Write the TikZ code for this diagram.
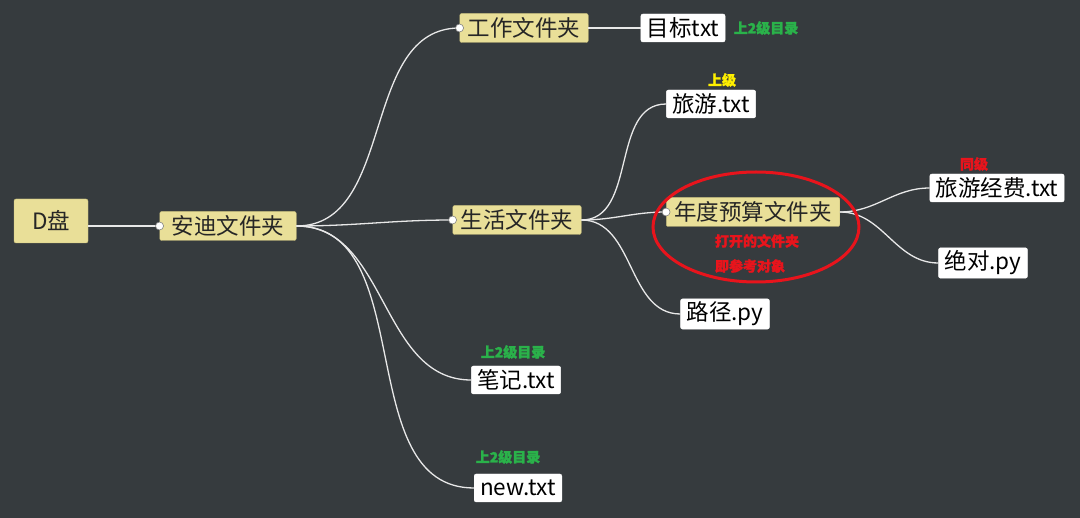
\documentclass[tikz,border=0pt]{standalone}
\usepackage{fontspec}
\setmainfont{Noto Sans CJK SC}
\newfontfamily\notefont{Noto Sans CJK SC}[FakeBold=1.6]
\usepackage{xcolor}
\usepackage{tikz}
\definecolor{bgdark}{HTML}{363B3E}
\definecolor{khaki}{HTML}{E9DF98}
\definecolor{khakiline}{HTML}{C9BF7A}
\definecolor{notegreen}{HTML}{2AB24A}
\definecolor{noteyellow}{HTML}{FFF000}
\definecolor{notered}{HTML}{E8141C}
\definecolor{linkgray}{HTML}{E8E8E8}

\begin{document}
\begin{tikzpicture}[x=1pt,y=-1pt,
  folder/.style={draw=khakiline, fill=khaki, rounded corners=2pt, text=black!85,
    font=\fontsize{22.5}{25}\selectfont, inner xsep=8pt, inner ysep=3pt, minimum height=29pt},
  file/.style={draw=white, fill=white, rounded corners=2pt, text=black,
    font=\fontsize{22.5}{25}\selectfont, inner xsep=6pt, inner ysep=3pt, minimum height=28pt},
  note/.style={font=\fontsize{14}{16}\notefont\bfseries},
  link/.style={draw=linkgray, line width=1.3pt},
  knob/.style={fill=white, draw=gray, line width=0.6pt}]
\useasboundingbox (0,0) rectangle (1080,518);
\fill[bgdark] (0,0) rectangle (1080,518);

\node[folder, minimum width=74pt, minimum height=44pt] (disk) at (51,221) {D盘};
\node[folder, inner xsep=12pt] (andy) at (228,226) {安迪文件夹};
\node[folder] (work) at (524,28) {工作文件夹};
\node[file] (goal) at (683,28) {目标txt};
\node[file] (trip) at (711,104) {旅游.txt};
\node[folder] (life) at (517,220) {生活文件夹};
\node[folder] (budget) at (753,212) {年度预算文件夹};
\node[file] (cost) at (997,188) {旅游经费.txt};
\node[file] (abs) at (983,263) {绝对.py};
\node[file] (path) at (725,314) {路径.py};
\node[file] (notes) at (516,380) {笔记.txt};
\node[file] (new) at (518,488) {new.txt};

\node[note, text=notegreen] (n1) at (766,28) {上2级目录};
\node[note, text=noteyellow] (n2) at (722,80) {上级};
\node[note, text=notered] (n3) at (974,164) {同级};
\node[note, text=notered] (n4) at (757,241) {打开的文件夹};
\node[note, text=notered] (n5) at (750,266) {即参考对象};
\node[note, text=notegreen] (n6) at (513,352) {上2级目录};
\node[note, text=notegreen] (n7) at (508,457) {上2级目录};

% connectors
\draw[link] (disk.east |- andy.west) -- (andy.west);
\draw[link] (andy.east) to[out=0,in=180] (work.west);
\draw[link] (andy.east) to[out=0,in=180] (life.west);
\draw[link] (andy.east) to[out=0,in=180] (notes.west);
\draw[link] (andy.east) to[out=0,in=180] (new.west);
\draw[link] (work.east) -- (goal.west);
\draw[link] (life.east) to[out=0,in=180] (trip.west);
\draw[link] (life.east) to[out=0,in=180] (budget.west);
\draw[link] (life.east) to[out=0,in=180] (path.west);
\draw[link] (budget.east) to[out=0,in=180] (cost.west);
\draw[link] (budget.east) to[out=0,in=180] (abs.west);

\draw[knob] (andy.west) circle (4);
\draw[knob] (work.west) circle (4);
\draw[knob] (life.west) circle (4);
\draw[knob] (budget.west) circle (4);

\draw[notered, line width=3pt] (756,227) ellipse [x radius=103, y radius=55];

\end{tikzpicture}
\end{document}
